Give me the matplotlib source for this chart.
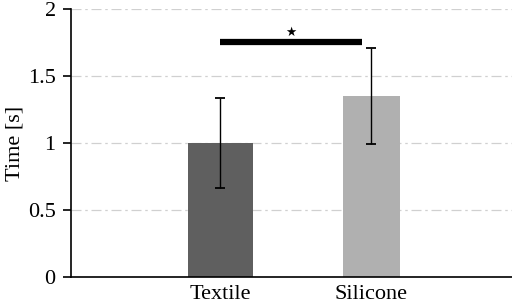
import numpy as np
import matplotlib.pyplot as plt

# ============== data
categories = ['Textile', 'Silicone']
means = [1.0, 1.35]
errors = [0.335, 0.36]
bar_widths = [0.43, 0.38]
colors = ['#5f5f5f', '#b0b0b0']
sig_level = 1.755
sig_label = '\u2605'

plt.rcParams['font.family'] = ['Liberation Serif', 'DejaVu Sans']

fig = plt.figure(figsize=(5.12, 3.04), dpi=100)
ax = fig.add_axes([71 / 512, 27 / 304, (512 - 71) / 512, 268 / 304])

x = np.arange(len(categories))
ax.bar(x, means, width=bar_widths, color=colors, zorder=2)
ax.errorbar(x, means, yerr=errors, fmt='none', ecolor='black',
            elinewidth=1.0, capsize=3.5, capthick=1.3, zorder=3)

# significance bracket
ax.plot([x[0], x[1] - 0.06], [sig_level, sig_level], color='black', lw=4.5,
        solid_capstyle='butt', zorder=3)
ax.text(np.mean([x[0], x[1] - 0.06]), sig_level + 0.025, sig_label,
        ha='center', va='bottom', fontsize=9, family=['DejaVu Sans'])

ax.set_ylim(0, 2)
ax.set_xlim(-0.987, 1.93)
ax.set_yticks([0, 0.5, 1, 1.5, 2])
ax.set_yticklabels(['0', '0.5', '1', '1.5', '2'])
ax.set_xticks(x)
ax.set_xticklabels(categories)
ax.tick_params(axis='x', length=0, labelsize=16, pad=6)
ax.tick_params(axis='y', length=6, width=1.2, direction='out', labelsize=16, pad=5)
ax.yaxis.grid(True, color='#d0d0d0', linestyle=(0, (8, 3, 2, 3)), lw=0.9, zorder=0)
ax.set_axisbelow(True)
for s in ['top', 'right']:
    ax.spines[s].set_visible(False)
ax.spines['left'].set_linewidth(1.2)
ax.spines['bottom'].set_linewidth(1.2)
ax.set_ylabel('Time [s]', fontsize=16)
ax.yaxis.set_label_coords(-0.106, 0.5)

fig.savefig('out.png', dpi=100)
